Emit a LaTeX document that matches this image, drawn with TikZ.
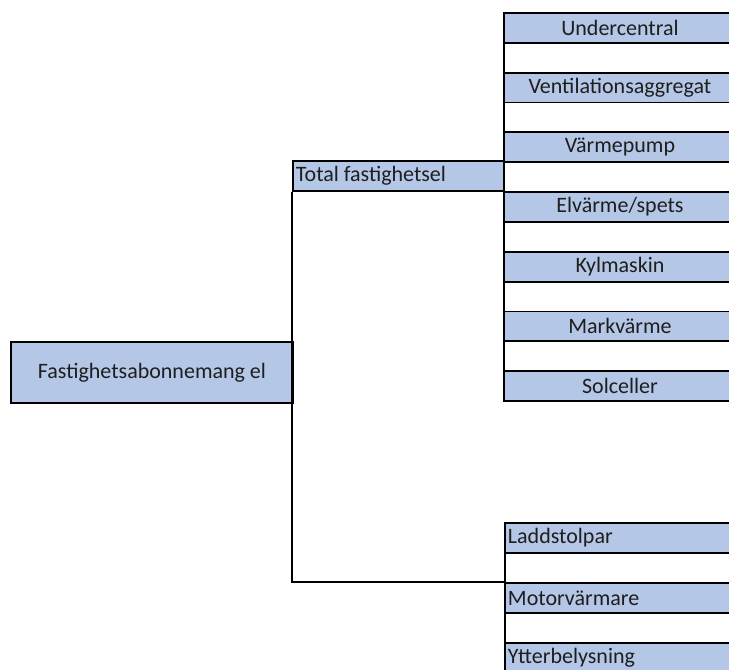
\documentclass[tikz,border=0pt]{standalone}
\usepackage{fontspec}
\setmainfont{Carlito}
\definecolor{cellblue}{HTML}{B4C7E7}
\definecolor{txt}{HTML}{1E1E1E}
\begin{document}
\begin{tikzpicture}[x=1pt,y=-1pt,
  base/.style={draw=black, line width=1.9pt, inner sep=0pt, anchor=north west,
    text=txt, font=\fontsize{22}{24}\selectfont},
  cellc/.style={base, fill=cellblue, minimum width=232pt, minimum height=29.85pt},
  gapc/.style={base, fill=white, minimum width=232pt, minimum height=29.85pt},
  celll/.style={base, fill=cellblue, minimum width=240pt, minimum height=30pt,
    text width=234pt, inner xsep=3pt, align=left},
  gapl/.style={base, fill=white, minimum width=240pt, minimum height=30pt},
  conn/.style={draw=black, line width=1.9pt}]
\clip (0,0) rectangle (729,670);
\fill[white] (0,0) rectangle (729,670);
% main node
\node[base, fill=cellblue, minimum width=282pt, minimum height=61pt] (root) at (10,341) {Fastighetsabonnemang el};
% total
\node[base, fill=cellblue, minimum width=211pt, minimum height=30pt, text width=205pt, inner xsep=3pt, align=left] (total) at (292,160) {Total\hspace{0.22em}fastighetsel};
% right column
\node[cellc] (u) at (503,12) {Undercentral};
\node[gapc] (g1) at (503,41.85) {};
\node[cellc] (v) at (503,71.7) {Ventilationsaggregat};
\node[gapc] (g2) at (503,101.55) {};
\node[cellc] (vp) at (503,131.4) {Värmepump};
\node[gapc] (g3) at (503,161.25) {};
\node[cellc] (el) at (503,191.1) {Elvärme/spets};
\node[gapc] (g4) at (503,220.95) {};
\node[cellc] (ky) at (503,250.8) {Kylmaskin};
\node[gapc] (g5) at (503,280.65) {};
\node[cellc] (mv) at (503,310.5) {Markvärme};
\node[gapc] (g6) at (503,340.35) {};
\node[cellc] (so) at (503,370.2) {Solceller};
% bottom group
\node[celll] (la) at (504,522) {Laddstolpar};
\node[gapl] (g7) at (504,552) {};
\node[celll] (mo) at (504,582) {Motorvärmare};
\node[gapl] (g8) at (504,612) {};
\node[celll] (yt) at (504,642) {Ytterbelysning};
% connector
\draw[conn] (total.south west) |- (mo.north west);
\end{tikzpicture}
\end{document}
